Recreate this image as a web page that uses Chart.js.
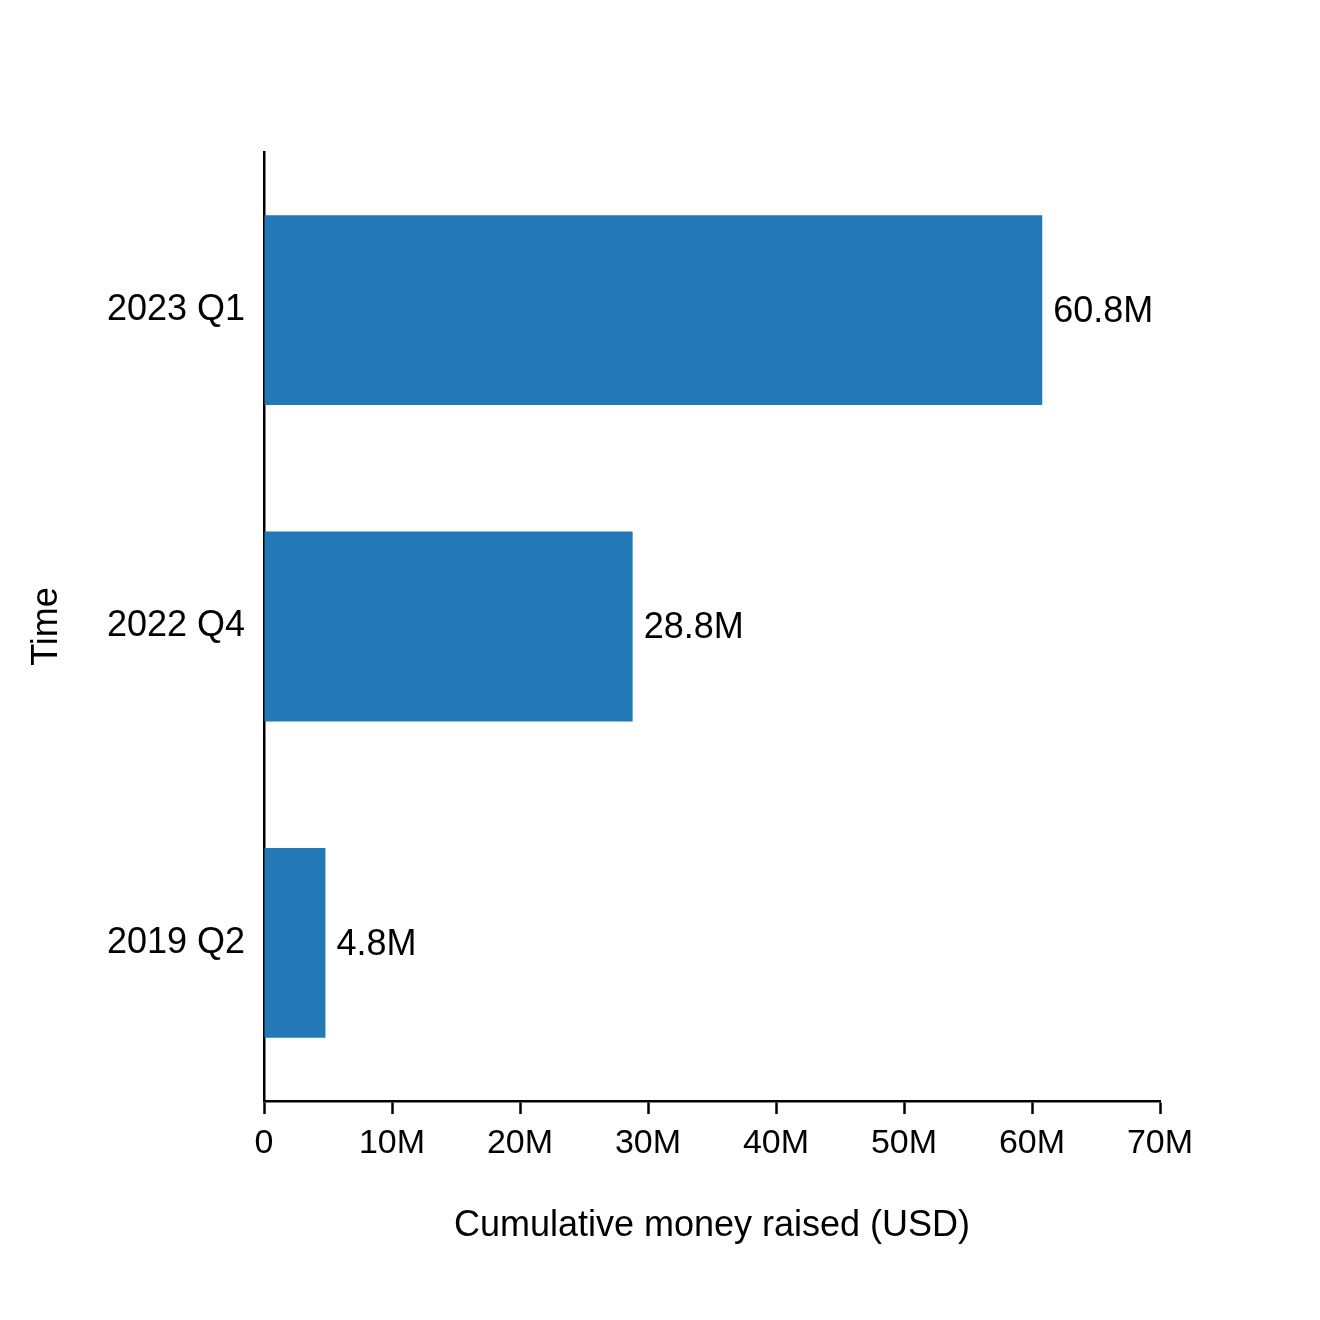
<!DOCTYPE html>
<html>
<head>
<meta charset="utf-8">
<script src="https://cdn.jsdelivr.net/npm/chart.js@4"></script>
<style>
html,body{margin:0;padding:0;background:#fff;}
#wrap{width:1320px;height:1320px;}
</style>
</head>
<body>
<div id="wrap"><canvas id="c" width="1320" height="1320"></canvas></div>
<script>
const categories = ['2023 Q1', '2022 Q4', '2019 Q2'];
const values = [60.8e6, 28.8e6, 4.8e6];
const valueLabels = ['60.8M', '28.8M', '4.8M'];
const xTickMax = 70e6;
const xTickStep = 10e6;

const FONT = 'Liberation Sans, Arial, sans-serif';

const barLabels = {
  id: 'barLabels',
  afterDatasetsDraw(chart) {
    const ctx = chart.ctx;
    const meta = chart.getDatasetMeta(0);
    ctx.save();
    ctx.font = '36px ' + FONT;
    ctx.fillStyle = '#000';
    ctx.textAlign = 'left';
    ctx.textBaseline = 'middle';
    meta.data.forEach((bar, i) => {
      ctx.fillText(valueLabels[i], bar.x + 11, bar.y + 2);
    });
    ctx.restore();
  }
};

new Chart(document.getElementById('c'), {
  type: 'bar',
  data: {
    labels: categories,
    datasets: [{
      data: values,
      backgroundColor: '#2279b5',
      borderWidth: 0,
      categoryPercentage: 1.0,
      barPercentage: 0.6
    }]
  },
  options: {
    indexAxis: 'y',
    responsive: false,
    animation: false,
    devicePixelRatio: 1,
    layout: { padding: { top: 152, right: 160, left: 0, bottom: 0 } },
    plugins: { legend: { display: false }, tooltip: { enabled: false } },
    scales: {
      x: {
        min: 0,
        max: xTickMax,
        afterFit(s) { s.height = 219; },
        ticks: {
          stepSize: xTickStep,
          color: '#000',
          font: { family: FONT, size: 34 },
          padding: 9,
          maxRotation: 0,
          callback: v => v === 0 ? '0' : (v / 1e6) + 'M'
        },
        grid: { drawOnChartArea: false, drawTicks: true, tickLength: 13, tickWidth: 2.5, tickColor: '#000' },
        border: { display: true, color: '#000', width: 2.5 },
        title: {
          display: true,
          text: 'Cumulative money raised (USD)',
          color: '#000',
          font: { family: FONT, size: 36 },
          padding: { top: 72, bottom: 72 }
        }
      },
      y: {
        afterFit(s) { s.width = 264; },
        ticks: {
          color: '#000',
          font: { family: FONT, size: 36 },
          padding: 19
        },
        grid: { drawOnChartArea: false, drawTicks: false },
        border: { display: true, color: '#000', width: 2.5 },
        title: {
          display: true,
          text: 'Time',
          color: '#000',
          font: { family: FONT, size: 36 },
          padding: { top: 25, bottom: 25 }
        }
      }
    }
  },
  plugins: [barLabels]
});
</script>
</body>
</html>
